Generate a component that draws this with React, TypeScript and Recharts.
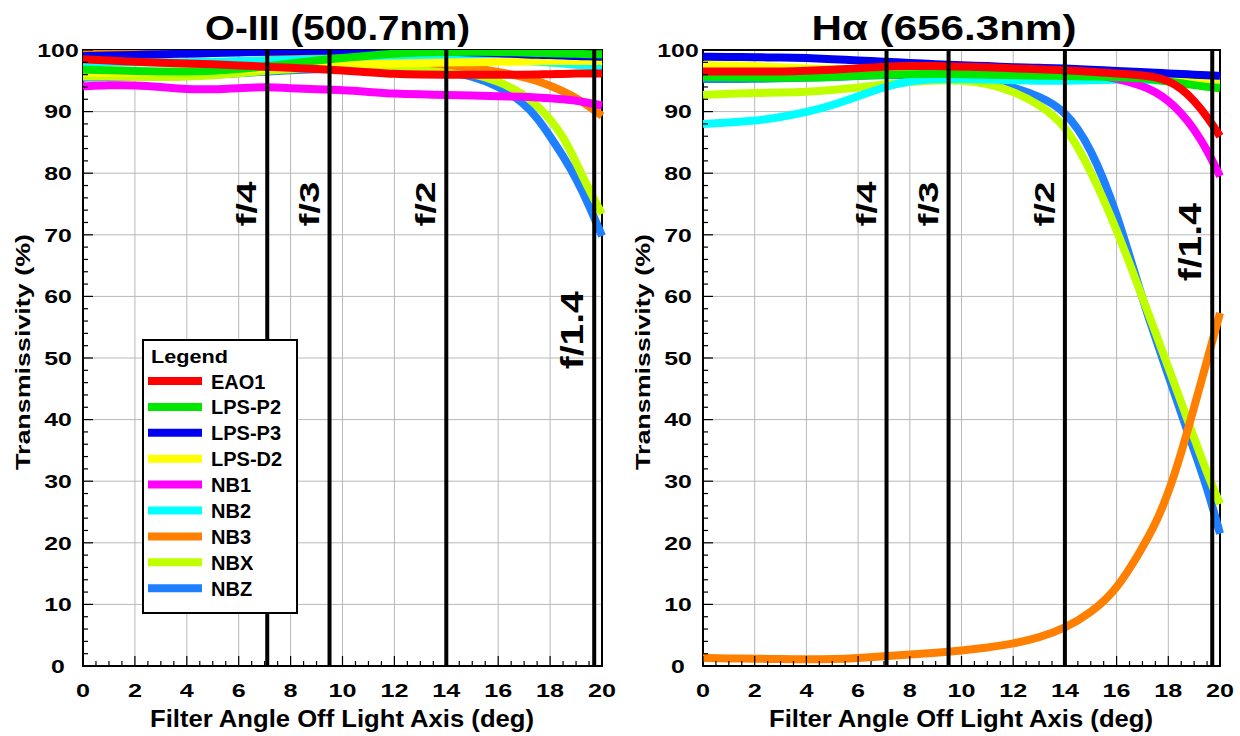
import React from 'react';
import { LineChart, Line, XAxis, YAxis, CartesianGrid, ReferenceLine, ReferenceArea } from 'recharts';

// ---------- data ----------
const ANGLES = [0, 1, 2, 3, 4, 5, 6, 7, 8, 9, 10, 11, 12, 13, 14, 15, 16, 17, 17.5, 18, 18.5, 19, 19.5, 20];

const SERIES_NAMES = ['EAO1', 'LPS-P2', 'LPS-P3', 'LPS-D2', 'NB1', 'NB2', 'NB3', 'NBX', 'NBZ'];
const SERIES_COLORS = ['#FF0000', '#00E800', '#0000F0', '#FFFF00', '#FF00FF', '#00FFFF', '#FF8000', '#BFFF00', '#1E7FFF'];

// O-III (500.7nm)
const OIII_EAO1 = [98.5, 98.3, 98.1, 97.9, 97.8, 97.7, 97.5, 97.3, 97.1, 96.9, 96.7, 96.4, 96.1, 96.0, 96.0, 96.0, 96.0, 96.0, 96.0, 96.1, 96.1, 96.2, 96.2, 96.2];
const OIII_LPSP2 = [96.8, 96.7, 96.6, 96.5, 96.5, 96.6, 96.9, 97.3, 97.8, 98.3, 98.7, 99.1, 99.4, 99.6, 99.7, 99.7, 99.7, 99.6, 99.5, 99.5, 99.4, 99.4, 99.3, 99.3];
const OIII_LPSP3 = [99.0, 99.1, 99.2, 99.3, 99.4, 99.5, 99.6, 99.7, 99.8, 99.9, 99.9, 99.9, 99.9, 99.8, 99.7, 99.6, 99.5, 99.3, 99.2, 99.2, 99.1, 99.0, 99.0, 98.9];
const OIII_LPSD2 = [96.3, 96.3, 96.3, 96.4, 96.5, 96.6, 96.8, 97.0, 97.2, 97.4, 97.6, 97.7, 97.8, 97.9, 98.0, 98.0, 98.1, 98.1, 98.2, 98.2, 98.2, 98.2, 98.2, 98.2];
const OIII_NB1 = [94.1, 94.3, 94.3, 94.0, 93.6, 93.6, 93.8, 94.0, 93.8, 93.6, 93.5, 93.2, 92.9, 92.8, 92.7, 92.6, 92.5, 92.4, 92.3, 92.2, 92.0, 91.8, 91.4, 91.0];
const OIII_NB2 = [98.0, 98.0, 98.0, 98.0, 98.0, 98.1, 98.2, 98.3, 98.4, 98.5, 98.6, 98.6, 98.6, 98.5, 98.5, 98.4, 98.3, 98.2, 98.1, 98.0, 97.8, 97.6, 97.4, 97.2];
const OIII_NB3 = [99.6, 99.7, 99.8, 99.8, 99.8, 99.8, 99.7, 99.6, 99.4, 99.2, 99.0, 98.7, 98.4, 98.0, 97.6, 97.1, 96.5, 95.6, 95.0, 94.2, 93.3, 92.2, 90.9, 89.3];
const OIII_NBX = [95.7, 95.7, 95.6, 95.6, 95.7, 95.9, 96.2, 96.6, 96.9, 97.1, 97.2, 97.2, 97.2, 97.1, 96.8, 96.2, 95.0, 92.8, 91.0, 88.8, 86.0, 81.8, 77.3, 73.4];
const OIII_NBZ = [95.5, 95.6, 95.6, 95.7, 95.8, 96.0, 96.2, 96.5, 96.7, 96.9, 97.0, 97.0, 96.9, 96.8, 96.5, 95.8, 94.2, 91.4, 89.0, 86.0, 82.8, 79.2, 74.8, 69.8];

// H-alpha (656.3nm)
const HA_EAO1 = [96.5, 96.5, 96.5, 96.5, 96.6, 96.8, 97.0, 97.3, 97.4, 97.4, 97.3, 97.2, 97.0, 96.9, 96.7, 96.5, 96.2, 95.9, 95.6, 95.0, 93.8, 91.8, 89.2, 86.0];
const HA_LPSP2 = [95.6, 95.6, 95.5, 95.5, 95.5, 95.6, 95.8, 96.0, 96.1, 96.1, 96.1, 96.0, 95.9, 95.8, 95.8, 95.7, 95.6, 95.4, 95.2, 94.9, 94.6, 94.3, 94.0, 93.8];
const HA_LPSP3 = [98.9, 98.9, 98.8, 98.8, 98.7, 98.5, 98.3, 98.1, 97.9, 97.7, 97.5, 97.4, 97.2, 97.1, 97.0, 96.8, 96.6, 96.4, 96.3, 96.2, 96.1, 96.0, 95.9, 95.8];
const HA_LPSD2 = [97.6, 97.5, 97.4, 97.2, 97.0, 96.9, 96.8, 96.8, 96.8, 96.8, 96.7, 96.6, 96.5, 96.4, 96.3, 96.2, 96.1, 95.9, 95.8, 95.6, 95.5, 95.4, 95.3, 95.2];
const HA_NB1 = [96.3, 96.3, 96.3, 96.3, 96.4, 96.6, 96.8, 97.0, 97.1, 97.1, 97.0, 96.9, 96.8, 96.6, 96.4, 96.1, 95.4, 94.2, 93.2, 91.8, 89.8, 87.2, 83.8, 79.5];
const HA_NB2 = [88.0, 88.2, 88.5, 89.1, 89.9, 91.0, 92.5, 94.0, 95.0, 95.3, 95.3, 95.2, 95.1, 95.0, 95.0, 95.1, 95.2, 95.2, 95.1, 95.0, 94.9, 94.8, 94.7, 94.6];
const HA_NB3 = [1.3, 1.2, 1.2, 1.1, 1.1, 1.1, 1.3, 1.6, 1.9, 2.1, 2.5, 3.0, 3.6, 4.6, 6.1, 8.6, 12.3, 19.2, 23.0, 28.0, 34.5, 42.0, 49.6, 57.3];
const HA_NBX = [92.7, 92.9, 93.0, 93.1, 93.2, 93.5, 93.9, 94.4, 94.8, 95.1, 95.1, 94.6, 93.3, 91.2, 88.0, 80.5, 71.0, 59.8, 54.2, 48.5, 42.8, 37.0, 31.3, 26.3];
const HA_NBZ = [95.3, 95.3, 95.3, 95.4, 95.5, 95.6, 95.8, 95.9, 95.9, 95.8, 95.6, 95.0, 94.0, 92.5, 90.3, 84.3, 73.8, 59.5, 53.3, 47.2, 41.0, 35.0, 29.0, 21.5];

const OIII_VALUES = [OIII_EAO1, OIII_LPSP2, OIII_LPSP3, OIII_LPSD2, OIII_NB1, OIII_NB2, OIII_NB3, OIII_NBX, OIII_NBZ];
const HA_VALUES = [HA_EAO1, HA_LPSP2, HA_LPSP3, HA_LPSD2, HA_NB1, HA_NB2, HA_NB3, HA_NBX, HA_NBZ];

const X_TICKS = [0, 0.5, 1, 1.5, 2, 2.5, 3, 3.5, 4, 4.5, 5, 5.5, 6, 6.5, 7, 7.5, 8, 8.5, 9, 9.5, 10, 10.5, 11, 11.5, 12, 12.5, 13, 13.5, 14, 14.5, 15, 15.5, 16, 16.5, 17, 17.5, 18, 18.5, 19, 19.5, 20];
const X_MAJOR = [0, 2, 4, 6, 8, 10, 12, 14, 16, 18, 20];
const Y_TICKS = [0, 2, 4, 6, 8, 10, 12, 14, 16, 18, 20, 22, 24, 26, 28, 30, 32, 34, 36, 38, 40, 42, 44, 46, 48, 50, 52, 54, 56, 58, 60, 62, 64, 66, 68, 70, 72, 74, 76, 78, 80, 82, 84, 86, 88, 90, 92, 94, 96, 98, 100];
const Y_MAJOR = [0, 10, 20, 30, 40, 50, 60, 70, 80, 90, 100];

const F_STOPS = [7.1, 9.5, 14, 19.7];
const F_LABELS = ['f/4', 'f/3', 'f/2', 'f/1.4'];
const OIII_F_POS = [0.25, 0.25, 0.25, 0.455];
const HA_F_POS = [0.25, 0.25, 0.25, 0.312];

const FONT = '"Liberation Sans", Arial, Helvetica, sans-serif';

// ---------- ticks ----------
const XTick = (props: any) => {
  const { x, y, payload } = props;
  const v = payload.value;
  const major = X_MAJOR.indexOf(v) >= 0;
  const s = String(v);
  return (
    <g>
      <line x1={x} x2={x} y1={y} y2={y - (major ? 10 : 5)} stroke="#000" strokeWidth={1.2} />
      {major && (
        <text x={x} y={y + 31} textAnchor="middle" fontSize={19} fontWeight="bold" fontFamily={FONT}
          textLength={s.length * 14} lengthAdjust="spacingAndGlyphs" fill="#000">{s}</text>
      )}
    </g>
  );
};

const YTick = (props: any) => {
  const { x, y, payload } = props;
  const v = payload.value;
  const major = Y_MAJOR.indexOf(v) >= 0;
  const s = String(v);
  return (
    <g>
      <line x1={x} x2={x + (major ? 10 : 5)} y1={y} y2={y} stroke="#000" strokeWidth={1.2} />
      {major && (
        <text x={x - 25} y={y + 6.7} textAnchor="middle" fontSize={19} fontWeight="bold" fontFamily={FONT}
          textLength={s.length * 13.8} lengthAdjust="spacingAndGlyphs" fill="#000">{s}</text>
      )}
    </g>
  );
};

// ---------- panel ----------
function Panel({ left, values, fPos, marginRight }: { left: number; values: number[][]; fPos: number[]; marginRight: number }) {
  const data = ANGLES.map((a, i) => {
    const row: Record<string, number> = { angle: a };
    SERIES_NAMES.forEach((n, k) => { row[n] = values[k][i]; });
    return row;
  });
  const order = SERIES_NAMES.map((_, k) => k).reverse();
  return (
    <div style={{ position: 'absolute', left, top: 0, width: 620, height: 736 }}>
      <LineChart width={620} height={736} data={data} margin={{ top: 50, right: marginRight, bottom: 40, left: 23 }}>
        <CartesianGrid stroke="#b8b8b8" strokeWidth={1} verticalValues={X_MAJOR} horizontalValues={Y_MAJOR} />
        <XAxis dataKey="angle" type="number" domain={[0, 20]} ticks={X_TICKS} interval={0}
          tickSize={0} tickMargin={0} tickLine={false} axisLine={false} tick={XTick} height={30} />
        <YAxis type="number" domain={[0, 100]} ticks={Y_TICKS} interval={0} allowDataOverflow
          tickSize={0} tickMargin={0} tickLine={false} axisLine={false} tick={YTick} width={60} />
        {order.map((k) => (
          <Line key={SERIES_NAMES[k]} dataKey={SERIES_NAMES[k]} type="basis" stroke={SERIES_COLORS[k]}
            strokeWidth={8} dot={false} activeDot={false} isAnimationActive={false} />
        ))}
        {F_STOPS.map((f, i) => (
          <ReferenceLine key={f} x={f} stroke="#000" strokeWidth={4}
            label={(p: any) => {
              const vb = p.viewBox || {};
              const tx = vb.x - 11;
              const ty = vb.y + vb.height * fPos[i];
              const big = F_LABELS[i].length > 3;
              return (
                <text transform={`translate(${tx},${ty}) rotate(-90)`} textAnchor="middle" fontSize={big ? 32 : 28}
                  fontWeight="bold" fontFamily={FONT} fill="#000" textLength={big ? 78 : 45} lengthAdjust="spacingAndGlyphs">
                  {F_LABELS[i]}
                </text>
              );
            }} />
        ))}
        <ReferenceArea x1={0} x2={20} y1={0} y2={100} fill="none" fillOpacity={0} stroke="#000" strokeWidth={2} ifOverflow="visible" />
      </LineChart>
    </div>
  );
}

export default function App() {
  return (
    <div style={{ position: 'absolute', left: 0, top: 0, width: 1240, height: 736, background: '#fff', fontFamily: FONT }}>
      <Panel left={0} values={OIII_VALUES} fPos={OIII_F_POS} marginRight={18} />
      <Panel left={620} values={HA_VALUES} fPos={HA_F_POS} marginRight={20} />
      <svg width={1240} height={736} style={{ position: 'absolute', left: 0, top: 0, pointerEvents: 'none' }}>
        <g fontFamily={FONT} fontWeight="bold" fill="#000">
          <text x={337.5} y={40} textAnchor="middle" fontSize={35} textLength={265} lengthAdjust="spacingAndGlyphs">O-III (500.7nm)</text>
          <text x={944} y={40} textAnchor="middle" fontSize={35} textLength={265} lengthAdjust="spacingAndGlyphs">Hα (656.3nm)</text>
          <text transform="translate(30,352) rotate(-90)" textAnchor="middle" fontSize={21} textLength={236} lengthAdjust="spacingAndGlyphs">Transmissivity (%)</text>
          <text transform="translate(650,352) rotate(-90)" textAnchor="middle" fontSize={21} textLength={236} lengthAdjust="spacingAndGlyphs">Transmissivity (%)</text>
          <text x={342} y={727} textAnchor="middle" fontSize={23} textLength={384} lengthAdjust="spacingAndGlyphs">Filter Angle Off Light Axis (deg)</text>
          <text x={961} y={727} textAnchor="middle" fontSize={23} textLength={384} lengthAdjust="spacingAndGlyphs">Filter Angle Off Light Axis (deg)</text>
        </g>
        <g>
          <rect x={143} y={340} width={154} height={273} fill="#fff" stroke="#000" strokeWidth={2} />
          <text x={151} y={363} fontFamily={FONT} fontWeight="bold" fontSize={19} textLength={77} lengthAdjust="spacingAndGlyphs">Legend</text>
          {SERIES_NAMES.map((n, i) => {
            const cy = 381 + i * 25.9;
            return (
              <g key={n}>
                <line x1={148} x2={202} y1={cy} y2={cy} stroke={SERIES_COLORS[i]} strokeWidth={8} />
                <text x={211} y={cy + 7.5} fontFamily={FONT} fontWeight="bold" fontSize={20} fill="#000">{n}</text>
              </g>
            );
          })}
        </g>
      </svg>
    </div>
  );
}
